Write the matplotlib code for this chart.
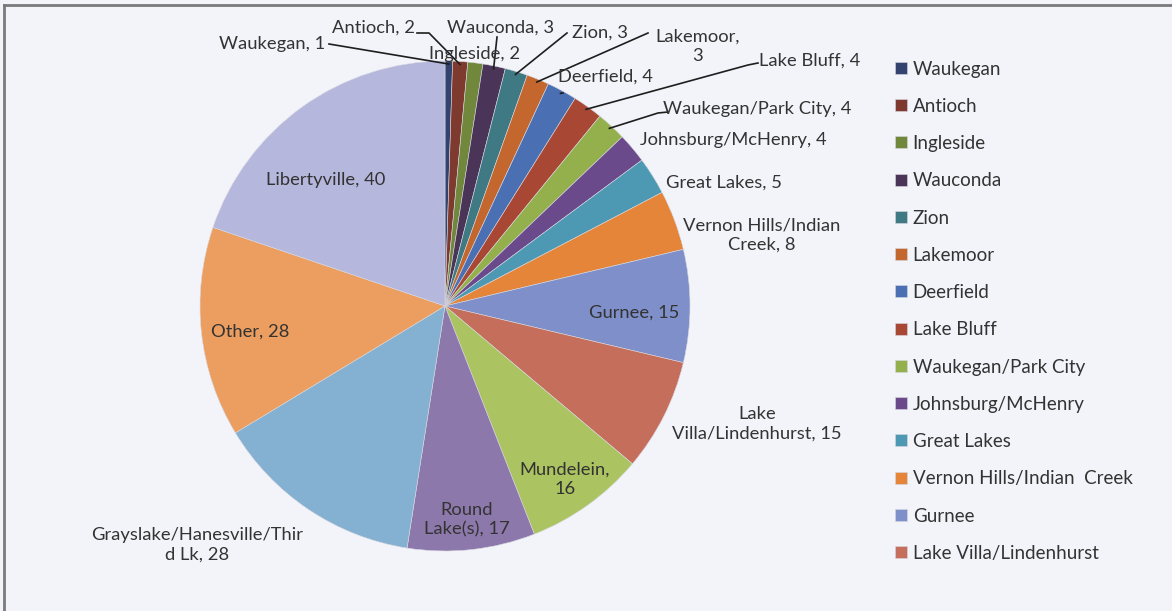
import numpy as np
import matplotlib.pyplot as plt

names = ["Waukegan", "Antioch", "Ingleside", "Wauconda", "Zion", "Lakemoor",
         "Deerfield", "Lake Bluff", "Waukegan/Park City", "Johnsburg/McHenry",
         "Great Lakes", "Vernon Hills/Indian  Creek", "Gurnee",
         "Lake Villa/Lindenhurst", "Mundelein", "Round Lake(s)",
         "Grayslake/Hanesville/Third Lk", "Other", "Libertyville"]
counts = [1, 2, 2, 3, 3, 3, 4, 4, 4, 4, 5, 8, 15, 15, 16, 17, 28, 28, 40]
colors = ["#34426f", "#7e3a2e", "#70873c", "#4a3558", "#3f7983", "#c4672e",
          "#4a6fb3", "#a84734", "#94b04c", "#6a4a8a", "#4d98b3", "#e5853a",
          "#7f8fc9", "#c66e5c", "#abc360", "#8d78ab", "#84b0d2", "#eb9e5f",
          "#b6b7dd"]

# label text as drawn in the chart (with its line breaks) and its position
label_text = ["Waukegan, 1", "Antioch, 2", "Ingleside, 2", "Wauconda, 3", "Zion, 3",
              "Lakemoor,\n3", "Deerfield, 4", "Lake Bluff, 4", "Waukegan/Park City, 4",
              "Johnsburg/McHenry, 4", "Great Lakes, 5", "Vernon Hills/Indian\nCreek, 8",
              "Gurnee, 15", "Lake\nVilla/Lindenhurst, 15", "Mundelein,\n16",
              "Round\nLake(s), 17", "Grayslake/Hanesville/Thir\nd Lk, 28", "Other, 28",
              "Libertyville, 40"]
label_pos = [(272, 44), (374, 28), (475, 54), (501, 28), (600, 33),
             (698, 46), (605, 77), (810, 61), (757, 109),
             (733, 140), (724, 183), (762, 235),
             (634, 313), (757, 424), (565, 479),
             (467, 520), (197, 545), (250, 332),
             (326, 180)]
# leader lines: index -> start point next to the text (pixel coords)
leaders = {0: [(329, 44)], 1: [(417, 33), (429, 33)], 3: [(497, 37)],
           4: [(567, 33)], 5: [(648, 33)], 6: [(563, 93)],
           7: [(758, 63), (748, 65)], 8: [(668, 112), (658, 113)]}

W, H = 1172, 611
cx, cy, R = 445, 306, 245

fig = plt.figure(figsize=(W / 100, H / 100), dpi=100)
fig.patch.set_facecolor("#f3f4f9")
ax = fig.add_axes([0, 0, 1, 1])
ax.set_facecolor("#f3f4f9")

wedges, _ = ax.pie(counts, colors=colors, startangle=90, counterclock=False,
                   center=(cx, H - cy), radius=R,
                   wedgeprops=dict(linewidth=0.4, edgecolor="#d8d8e0"))
ax.set_xlim(0, W)
ax.set_ylim(0, H)
ax.set_aspect("auto")
ax.axis("off")

font = "Lato"
tcol = "#333333"
for lab, (x, y) in zip(label_text, label_pos):
    ax.text(x, H - y, lab, ha="center", va="center", fontsize=13.2,
            color=tcol, family=font, linespacing=1.25)

cum = np.cumsum([0] + counts)
total = cum[-1]
for i, pts in leaders.items():
    mid = (cum[i] + cum[i + 1]) / 2 / total * 2 * np.pi
    ex = cx + (R - 3) * np.sin(mid)
    ey = cy - (R - 3) * np.cos(mid)
    xs = [p[0] for p in pts] + [ex]
    ys = [H - p[1] for p in pts] + [H - ey]
    ax.plot(xs, ys, color="#1e1e1e", lw=1.2)

# frame of the chart area (top and left edges)
ax.plot([4, W], [H - 5, H - 5], color="#7a7a7a", lw=2)
ax.plot([4, 4], [0, H - 5], color="#7a7a7a", lw=2)

leg = ax.legend(wedges[:14], names[:14], loc="upper left",
                bbox_to_anchor=(888 / W, 1 - 53 / H), frameon=False,
                prop=dict(family=font, size=13.5), labelcolor=tcol,
                handlelength=0.62, handleheight=0.62, handletextpad=0.3,
                labelspacing=1.08, borderaxespad=0)

fig.savefig("out.png", dpi=100, facecolor=fig.get_facecolor())
